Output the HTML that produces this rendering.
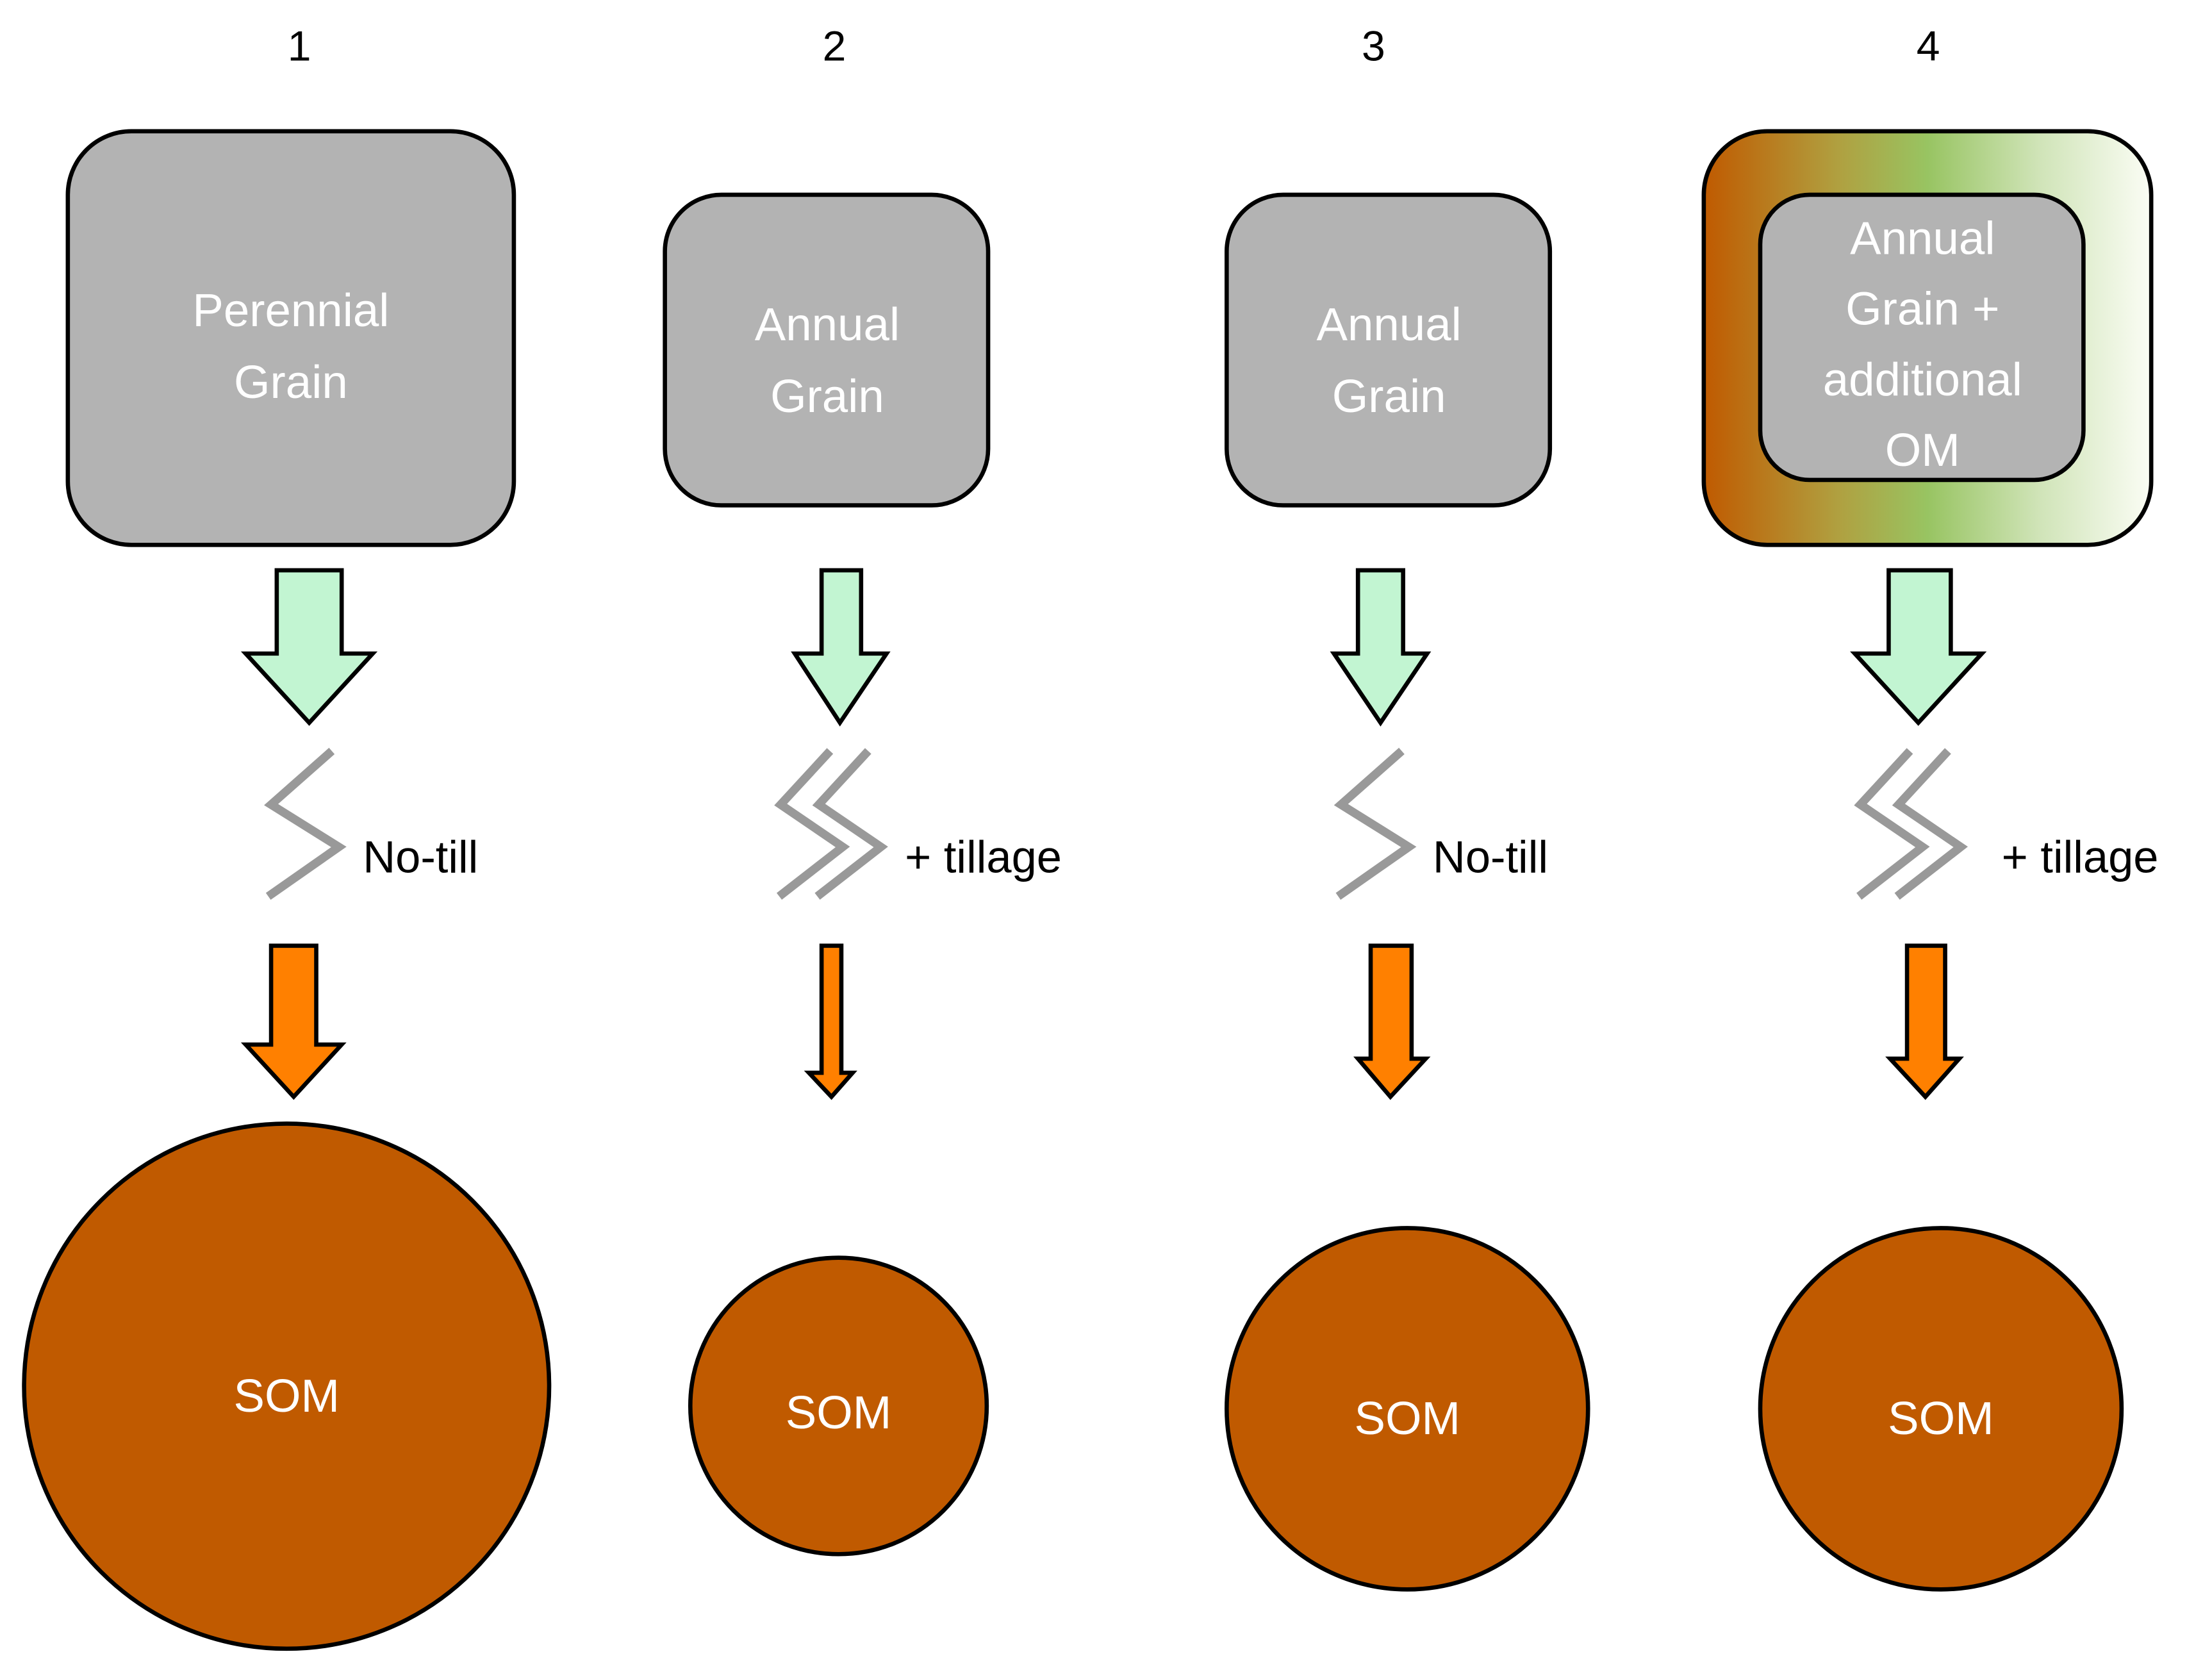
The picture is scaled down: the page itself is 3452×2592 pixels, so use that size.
<!DOCTYPE html>
<html><head><style>html,body{margin:0;padding:0;background:#fff}svg{display:block}</style></head>
<body>
<svg width="3452" height="2592" viewBox="0 0 1567 1176.7" xmlns="http://www.w3.org/2000/svg" font-family="Liberation Sans, sans-serif">
<defs>
<linearGradient id="g" x1="0" x2="1" y1="0" y2="0">
<stop offset="0" stop-color="#c05a00"/><stop offset="0.3" stop-color="#b0a040"/><stop offset="0.5" stop-color="#98c462"/><stop offset="0.75" stop-color="#d0e4b8"/><stop offset="1" stop-color="#fbfdf5"/>
</linearGradient>
</defs>
<g font-size="30" text-anchor="middle" fill="#000">
<text x="212" y="43">1</text><text x="591" y="43">2</text><text x="973" y="43">3</text><text x="1366" y="43">4</text>
</g>
<g stroke="#000" stroke-width="3" fill="#b3b3b3">
<rect x="48" y="93" width="316" height="293" rx="45"/>
<rect x="471" y="138" width="229" height="220" rx="40"/>
<rect x="869" y="138" width="229" height="220" rx="40"/>
<rect x="1207" y="93" width="317" height="293" rx="45" fill="url(#g)"/>
<rect x="1247" y="138" width="229" height="202" rx="35"/>
</g>
<g font-size="33" fill="#fff" text-anchor="middle">
<text x="206" y="231">Perennial</text><text x="206" y="282">Grain</text>
<text x="586" y="241">Annual</text><text x="586" y="292">Grain</text>
<text x="984" y="241">Annual</text><text x="984" y="292">Grain</text>
<text x="1362" y="180">Annual</text><text x="1362" y="230">Grain +</text><text x="1362" y="280">additional</text><text x="1362" y="330">OM</text>
</g>
<g fill="#c2f5d2" stroke="#000" stroke-width="3">
<path d="M196 404H242V463H264L219 512L174 463H196Z"/>
<path d="M582 404H610V463H628L595 512L563 463H582Z"/>
<path d="M962 404H994V463H1011L978 512L945 463H962Z"/>
<path d="M1338 404H1382V463H1404L1359 512L1314 463H1338Z"/>
</g>
<g fill="none" stroke="#999" stroke-width="6">
<polyline points="235,532 192,570 240,600 190,635"/>
<polyline points="588,532 553,570 597,600 552,635"/><polyline points="615,532 580,570 624,600 579,635"/>
<polyline points="993,532 950,570 998,600 948,635"/>
<polyline points="1353,532 1318,570 1362,600 1317,635"/><polyline points="1380,532 1345,570 1389,600 1344,635"/>
</g>
<g font-size="32" fill="#000">
<text x="257" y="618">No-till</text><text x="641" y="618">+ tillage</text>
<text x="1015" y="618">No-till</text><text x="1418" y="618">+ tillage</text>
</g>
<g fill="#ff8000" stroke="#000" stroke-width="3">
<path d="M192 670H224V740H242L208 777L174 740H192Z"/>
<path d="M582 670H596V760H604L589 777L573 760H582Z"/>
<path d="M971 670H1000V750H1010L985 777L962 750H971Z"/>
<path d="M1351 670H1378V750H1388L1364 777L1339 750H1351Z"/>
</g>
<g fill="#c05a00" stroke="#000" stroke-width="3">
<circle cx="203" cy="982" r="186"/>
<circle cx="594" cy="996" r="105"/>
<circle cx="997" cy="998" r="128"/>
<circle cx="1375" cy="998" r="128"/>
</g>
<g font-size="33" fill="#fff" text-anchor="middle">
<text x="203" y="1000">SOM</text><text x="594" y="1012">SOM</text><text x="997" y="1016">SOM</text><text x="1375" y="1016">SOM</text>
</g>
</svg>
</body></html>
